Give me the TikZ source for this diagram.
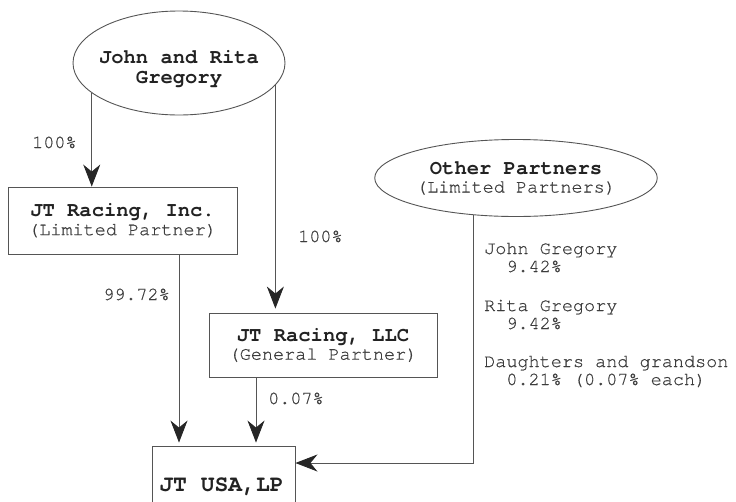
\documentclass[tikz,border=0pt]{standalone}
\usepackage{fontspec}
\setmonofont{texgyrecursor-regular.otf}[BoldFont=texgyrecursor-bold.otf]
\newfontface\regtt{texgyrecursor-regular.otf}[FakeBold=0.6]
\usetikzlibrary{shapes.geometric,arrows.meta}
\definecolor{linec}{HTML}{555555}
\definecolor{boldc}{HTML}{222222}
\definecolor{textc}{HTML}{3C3C3C}
\tikzset{
  lbl/.style={font=\regtt\fontsize{18.5}{18}\selectfont, text=textc, inner sep=0pt},
  ent/.style={draw=linec, line width=0.9pt, align=center, inner sep=0pt,
    font=\regtt\fontsize{18.5}{18.5}\selectfont, text=textc},
  entbox/.style={ent, rectangle},
  entell/.style={ent, ellipse},
  arr/.style={draw=linec, line width=0.9pt, -{Stealth[length=22pt,width=17pt,inset=7pt,color=black!85]}},
}
\newcommand{\bt}[1]{{\ttfamily\bfseries\fontsize{20.5}{20}\selectfont\color{boldc}#1}}
\begin{document}
\begin{tikzpicture}[x=1pt,y=-1pt]
\useasboundingbox (0,0) rectangle (736,501);
\clip (0,0) rectangle (736,501);
\fill[white] (0,0) rectangle (736,501);

\node[entell, minimum width=212pt, minimum height=104pt] (jr) at (179,63) {};
\node[align=center, inner sep=0pt, font=\ttfamily\bfseries\fontsize{20.5}{20.5}\selectfont, text=boldc] (jrt) at (179,69)
  {John and Rita\\Gregory};
\node[entbox, minimum width=229pt, minimum height=67pt] (inc) at (122.5,220.5)
  {\bt{JT Racing, Inc.}\\(Limited Partner)};
\node[entbox, minimum width=228pt, minimum height=64pt] (llc) at (323,345)
  {\bt{JT Racing, LLC}\\(General Partner)};
\node[entell, minimum width=256pt, minimum height=77pt] (op) at (516,178)
  {\bt{Other Partners}\\(Limited Partners)};
\node[entbox, minimum width=143pt, minimum height=84pt] (usa) at (223.5,488) {};
\node[anchor=base, inner sep=0pt, font=\ttfamily\bfseries\fontsize{23}{23}\selectfont, text=boldc] (usat) at (221.5,491) {JT USA,LP};

% labels
\node[lbl, anchor=base west] (l1) at (32,148) {100\%};
\node[lbl, anchor=base west] (l2) at (298,242) {100\%};
\node[lbl, anchor=base west] (l3) at (103,300) {99.72\%};
\node[lbl, anchor=base west] (l4) at (268,404) {0.07\%};
\node[lbl, anchor=base west] (p1) at (484,254) {John Gregory};
\node[lbl, anchor=base west] (p1v) at (484,272) {\ \ 9.42\%};
\node[lbl, anchor=base west] (p2) at (484,311) {Rita Gregory};
\node[lbl, anchor=base west] (p2v) at (484,329) {\ \ 9.42\%};
\node[lbl, anchor=base west] (p3) at (484,367) {Daughters and grandson};
\node[lbl, anchor=base west] (p3v) at (484,385) {\ \ 0.21\% (0.07\% each)};

% connectors
\draw[arr] (jr.199.2) -- (jr.199.2 |- inc.north);
\draw[arr] (jr.-13.6) -- ([yshift=4pt]jr.-13.6 |- llc.north);
\draw[arr] ([xshift=56.5pt]inc.south) -- ([xshift=56.5pt,yshift=3pt]inc.south |- usa.north);
\draw[arr] ([xshift=-67pt]llc.south) -- ([xshift=-67pt,yshift=3pt]llc.south |- usa.north);
\draw[arr] (op.221.7) |- ([yshift=25pt]usa.east);
\end{tikzpicture}
\end{document}
